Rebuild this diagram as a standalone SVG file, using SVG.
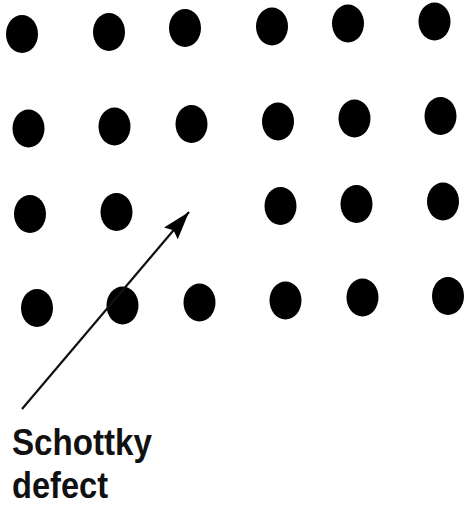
<svg xmlns="http://www.w3.org/2000/svg" width="464" height="507" viewBox="0 0 464 507">
<style>
.atom{fill:#000}
.lbl{font-family:"Liberation Sans",Arial,sans-serif;font-weight:bold;font-size:37px;fill:#111}
</style>
<defs>
<marker id="ah" markerUnits="userSpaceOnUse" markerWidth="30" markerHeight="20" refX="28" refY="9" orient="auto">
<path d="M0,0 L28,9 L0,18 L4,9 Z" fill="#000"/>
</marker>
</defs>
<rect width="464" height="507" fill="#fff"/>
<g id="row1">
<ellipse id="a11" class="atom" cx="22" cy="34" rx="16" ry="19"/>
<ellipse id="a12" class="atom" cx="109" cy="32" rx="16" ry="19"/>
<ellipse id="a13" class="atom" cx="185" cy="28" rx="16" ry="19"/>
<ellipse id="a14" class="atom" cx="272" cy="26.5" rx="16" ry="19"/>
<ellipse id="a15" class="atom" cx="348" cy="23.5" rx="16" ry="19"/>
<ellipse id="a16" class="atom" cx="434.5" cy="21.5" rx="16" ry="19"/>
</g>
<g id="row2">
<ellipse id="a21" class="atom" cx="28.5" cy="128.5" rx="16" ry="19"/>
<ellipse id="a22" class="atom" cx="114.5" cy="126.5" rx="16" ry="19"/>
<ellipse id="a23" class="atom" cx="191.5" cy="124" rx="16" ry="19"/>
<ellipse id="a24" class="atom" cx="278" cy="121.5" rx="16" ry="19"/>
<ellipse id="a25" class="atom" cx="354.5" cy="118.5" rx="16" ry="19"/>
<ellipse id="a26" class="atom" cx="440.5" cy="116" rx="16" ry="19"/>
</g>
<g id="row3">
<ellipse id="a31" class="atom" cx="30" cy="214" rx="16" ry="19"/>
<ellipse id="a32" class="atom" cx="116.5" cy="212" rx="16" ry="19"/>
<ellipse id="a34" class="atom" cx="280.5" cy="206" rx="16" ry="19"/>
<ellipse id="a35" class="atom" cx="356.5" cy="204" rx="16" ry="19"/>
<ellipse id="a36" class="atom" cx="443" cy="201.5" rx="16" ry="19"/>
</g>
<g id="row4">
<ellipse id="a41" class="atom" cx="37" cy="308" rx="16" ry="19"/>
<ellipse id="a42" class="atom" cx="122.5" cy="305.5" rx="16" ry="19"/>
<ellipse id="a43" class="atom" cx="199.5" cy="302.5" rx="16" ry="19"/>
<ellipse id="a44" class="atom" cx="285.5" cy="300.5" rx="16" ry="19"/>
<ellipse id="a45" class="atom" cx="362.5" cy="297.5" rx="16" ry="19"/>
<ellipse id="a46" class="atom" cx="448" cy="296" rx="16" ry="19"/>
</g>
<g id="connectors">
<line x1="22" y1="409" x2="189" y2="212" stroke="#111" stroke-width="2.2" marker-end="url(#ah)"/>
</g>
<g id="label">
<text class="lbl" x="12" y="455" textLength="140" lengthAdjust="spacingAndGlyphs">Schottky</text>
<text class="lbl" x="12" y="498" textLength="96" lengthAdjust="spacingAndGlyphs">defect</text>
</g>
</svg>
